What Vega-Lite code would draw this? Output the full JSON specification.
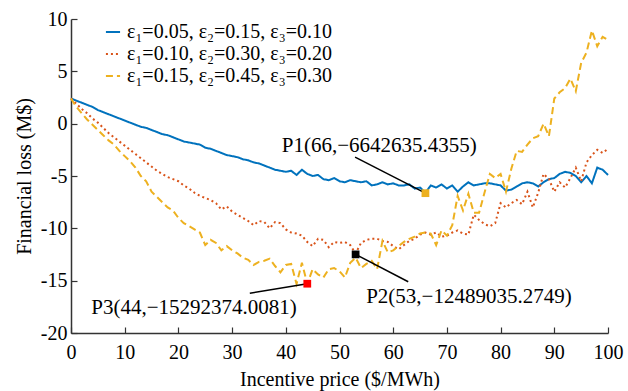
{
  "$schema": "https://vega.github.io/schema/vega-lite/v6.json",
  "width": 537,
  "height": 314,
  "autosize": {"type": "none"},
  "padding": {"left": 71, "top": 19, "right": 20, "bottom": 58},
  "background": "white",
  "config": {
    "view": {"stroke": null},
    "font": "Liberation Serif, Times New Roman, serif",
    "axis": {
      "labelFont": "Liberation Serif, Times New Roman, serif",
      "titleFont": "Liberation Serif, Times New Roman, serif",
      "labelFontSize": 20,
      "titleFontSize": 20,
      "titleFontWeight": "normal",
      "labelColor": "#000",
      "titleColor": "#000",
      "domainColor": "#333",
      "domainWidth": 1.5,
      "tickColor": "#333",
      "tickWidth": 1.2,
      "grid": false
    }
  },
  "datasets": {
    "curves": [
      {"x":0,"y":2.4,"s":"A"},{"x":1,"y":2.2,"s":"A"},{"x":2,"y":2.0,"s":"A"},{"x":3,"y":1.8,"s":"A"},{"x":4,"y":1.6,"s":"A"},{"x":5,"y":1.3,"s":"A"},{"x":6,"y":1.1,"s":"A"},{"x":7,"y":0.9,"s":"A"},{"x":8,"y":0.7,"s":"A"},{"x":9,"y":0.5,"s":"A"},{"x":10,"y":0.3,"s":"A"},
      {"x":11,"y":0.1,"s":"A"},{"x":12,"y":-0.1,"s":"A"},{"x":13,"y":-0.3,"s":"A"},{"x":14,"y":-0.4,"s":"A"},{"x":15,"y":-0.6,"s":"A"},{"x":16,"y":-0.8,"s":"A"},{"x":17,"y":-1.0,"s":"A"},{"x":18,"y":-1.1,"s":"A"},{"x":19,"y":-1.3,"s":"A"},{"x":20,"y":-1.5,"s":"A"},
      {"x":21,"y":-1.7,"s":"A"},{"x":22,"y":-1.8,"s":"A"},{"x":23,"y":-1.9,"s":"A"},{"x":24,"y":-2.0,"s":"A"},{"x":25,"y":-2.3,"s":"A"},{"x":26,"y":-2.4,"s":"A"},{"x":27,"y":-2.6,"s":"A"},{"x":28,"y":-2.8,"s":"A"},{"x":29,"y":-3.0,"s":"A"},{"x":30,"y":-3.1,"s":"A"},
      {"x":31,"y":-3.2,"s":"A"},{"x":32,"y":-3.4,"s":"A"},{"x":33,"y":-3.5,"s":"A"},{"x":34,"y":-3.7,"s":"A"},{"x":35,"y":-3.8,"s":"A"},{"x":36,"y":-4.0,"s":"A"},{"x":37,"y":-4.2,"s":"A"},{"x":38,"y":-4.4,"s":"A"},{"x":39,"y":-4.5,"s":"A"},{"x":40,"y":-4.6,"s":"A"},
      {"x":41,"y":-4.5,"s":"A"},{"x":42,"y":-4.9,"s":"A"},{"x":43,"y":-4.4,"s":"A"},{"x":44,"y":-4.8,"s":"A"},{"x":45,"y":-5.0,"s":"A"},{"x":46,"y":-4.9,"s":"A"},{"x":47,"y":-5.3,"s":"A"},{"x":48,"y":-5.4,"s":"A"},{"x":49,"y":-5.2,"s":"A"},{"x":50,"y":-5.5,"s":"A"},
      {"x":51,"y":-5.6,"s":"A"},{"x":52,"y":-5.4,"s":"A"},{"x":53,"y":-5.5,"s":"A"},{"x":54,"y":-5.6,"s":"A"},{"x":55,"y":-5.5,"s":"A"},{"x":56,"y":-5.9,"s":"A"},{"x":57,"y":-5.8,"s":"A"},{"x":58,"y":-5.6,"s":"A"},{"x":59,"y":-5.8,"s":"A"},{"x":60,"y":-5.7,"s":"A"},
      {"x":61,"y":-5.9,"s":"A"},{"x":62,"y":-5.9,"s":"A"},{"x":63,"y":-5.8,"s":"A"},{"x":64,"y":-6.2,"s":"A"},{"x":65,"y":-6.1,"s":"A"},{"x":66,"y":-6.6,"s":"A"},{"x":67,"y":-5.9,"s":"A"},{"x":68,"y":-6.1,"s":"A"},{"x":69,"y":-5.8,"s":"A"},{"x":70,"y":-6.2,"s":"A"},
      {"x":71,"y":-5.9,"s":"A"},{"x":72,"y":-6.5,"s":"A"},{"x":73,"y":-6.0,"s":"A"},{"x":74,"y":-5.6,"s":"A"},{"x":75,"y":-5.9,"s":"A"},{"x":76,"y":-5.8,"s":"A"},{"x":77,"y":-5.7,"s":"A"},{"x":78,"y":-5.7,"s":"A"},{"x":79,"y":-5.8,"s":"A"},{"x":80,"y":-5.9,"s":"A"},
      {"x":81,"y":-6.4,"s":"A"},{"x":82,"y":-6.3,"s":"A"},{"x":83,"y":-6.0,"s":"A"},{"x":84,"y":-5.7,"s":"A"},{"x":85,"y":-5.6,"s":"A"},{"x":86,"y":-5.7,"s":"A"},{"x":87,"y":-6.0,"s":"A"},{"x":88,"y":-5.6,"s":"A"},{"x":89,"y":-5.3,"s":"A"},{"x":90,"y":-5.2,"s":"A"},
      {"x":91,"y":-4.8,"s":"A"},{"x":92,"y":-4.6,"s":"A"},{"x":93,"y":-4.7,"s":"A"},{"x":94,"y":-5.0,"s":"A"},{"x":95,"y":-5.6,"s":"A"},{"x":96,"y":-5.0,"s":"A"},{"x":97,"y":-5.7,"s":"A"},{"x":98,"y":-4.2,"s":"A"},{"x":99,"y":-4.4,"s":"A"},{"x":100,"y":-4.9,"s":"A"},

      {"x":0,"y":2.4,"s":"B"},{"x":1,"y":1.9,"s":"B"},{"x":2,"y":1.4,"s":"B"},{"x":3,"y":1.0,"s":"B"},{"x":4,"y":0.5,"s":"B"},{"x":5,"y":0.1,"s":"B"},{"x":6,"y":-0.4,"s":"B"},{"x":7,"y":-0.9,"s":"B"},{"x":8,"y":-1.3,"s":"B"},{"x":9,"y":-1.7,"s":"B"},{"x":10,"y":-2.1,"s":"B"},
      {"x":11,"y":-2.5,"s":"B"},{"x":12,"y":-2.9,"s":"B"},{"x":13,"y":-3.3,"s":"B"},{"x":14,"y":-3.7,"s":"B"},{"x":15,"y":-4.1,"s":"B"},{"x":16,"y":-4.5,"s":"B"},{"x":17,"y":-4.8,"s":"B"},{"x":18,"y":-5.1,"s":"B"},{"x":19,"y":-5.3,"s":"B"},{"x":20,"y":-5.5,"s":"B"},
      {"x":21,"y":-5.9,"s":"B"},{"x":22,"y":-6.2,"s":"B"},{"x":23,"y":-6.6,"s":"B"},{"x":24,"y":-6.9,"s":"B"},{"x":25,"y":-7.1,"s":"B"},{"x":26,"y":-7.3,"s":"B"},{"x":27,"y":-7.6,"s":"B"},{"x":28,"y":-8.2,"s":"B"},{"x":29,"y":-7.9,"s":"B"},{"x":30,"y":-8.4,"s":"B"},
      {"x":31,"y":-8.7,"s":"B"},{"x":32,"y":-9.0,"s":"B"},{"x":33,"y":-9.3,"s":"B"},{"x":34,"y":-9.7,"s":"B"},{"x":35,"y":-9.3,"s":"B"},{"x":36,"y":-9.4,"s":"B"},{"x":37,"y":-10.0,"s":"B"},{"x":38,"y":-9.4,"s":"B"},{"x":39,"y":-9.5,"s":"B"},{"x":40,"y":-10.1,"s":"B"},
      {"x":41,"y":-10.4,"s":"B"},{"x":42,"y":-10.5,"s":"B"},{"x":43,"y":-10.7,"s":"B"},{"x":44,"y":-11.3,"s":"B"},{"x":45,"y":-11.7,"s":"B"},{"x":46,"y":-11.0,"s":"B"},{"x":47,"y":-11.1,"s":"B"},{"x":48,"y":-11.8,"s":"B"},{"x":49,"y":-11.3,"s":"B"},{"x":50,"y":-11.4,"s":"B"},
      {"x":51,"y":-11.3,"s":"B"},{"x":52,"y":-11.6,"s":"B"},{"x":53,"y":-12.4,"s":"B"},{"x":54,"y":-11.4,"s":"B"},{"x":55,"y":-11.1,"s":"B"},{"x":56,"y":-11.0,"s":"B"},{"x":57,"y":-11.0,"s":"B"},{"x":58,"y":-11.2,"s":"B"},{"x":59,"y":-11.3,"s":"B"},{"x":60,"y":-11.7,"s":"B"},
      {"x":61,"y":-12.0,"s":"B"},{"x":62,"y":-11.6,"s":"B"},{"x":63,"y":-11.2,"s":"B"},{"x":64,"y":-11.0,"s":"B"},{"x":65,"y":-10.6,"s":"B"},{"x":66,"y":-10.4,"s":"B"},{"x":67,"y":-10.6,"s":"B"},{"x":68,"y":-10.4,"s":"B"},{"x":69,"y":-10.8,"s":"B"},{"x":70,"y":-10.7,"s":"B"},
      {"x":71,"y":-10.4,"s":"B"},{"x":72,"y":-10.2,"s":"B"},{"x":73,"y":-10.5,"s":"B"},{"x":74,"y":-10.6,"s":"B"},{"x":75,"y":-8.7,"s":"B"},{"x":76,"y":-9.2,"s":"B"},{"x":77,"y":-9.6,"s":"B"},{"x":78,"y":-9.8,"s":"B"},{"x":79,"y":-9.5,"s":"B"},{"x":80,"y":-7.6,"s":"B"},
      {"x":81,"y":-8.0,"s":"B"},{"x":82,"y":-7.6,"s":"B"},{"x":83,"y":-7.3,"s":"B"},{"x":84,"y":-7.7,"s":"B"},{"x":85,"y":-6.5,"s":"B"},{"x":86,"y":-8.0,"s":"B"},{"x":87,"y":-6.6,"s":"B"},{"x":88,"y":-4.8,"s":"B"},{"x":89,"y":-5.3,"s":"B"},{"x":90,"y":-6.5,"s":"B"},
      {"x":91,"y":-5.6,"s":"B"},{"x":92,"y":-6.1,"s":"B"},{"x":93,"y":-5.2,"s":"B"},{"x":94,"y":-4.2,"s":"B"},{"x":95,"y":-5.5,"s":"B"},{"x":96,"y":-3.7,"s":"B"},{"x":97,"y":-3.0,"s":"B"},{"x":98,"y":-2.5,"s":"B"},{"x":99,"y":-2.8,"s":"B"},{"x":100,"y":-2.4,"s":"B"},

      {"x":0,"y":2.4,"s":"C"},{"x":1,"y":1.6,"s":"C"},{"x":2,"y":1.0,"s":"C"},{"x":3,"y":0.4,"s":"C"},{"x":4,"y":-0.1,"s":"C"},{"x":5,"y":-0.6,"s":"C"},{"x":6,"y":-1.1,"s":"C"},{"x":7,"y":-1.6,"s":"C"},{"x":8,"y":-2.0,"s":"C"},{"x":9,"y":-2.6,"s":"C"},{"x":10,"y":-3.1,"s":"C"},
      {"x":11,"y":-3.6,"s":"C"},{"x":12,"y":-4.2,"s":"C"},{"x":13,"y":-5.0,"s":"C"},{"x":14,"y":-5.5,"s":"C"},{"x":15,"y":-6.5,"s":"C"},{"x":16,"y":-7.0,"s":"C"},{"x":17,"y":-7.5,"s":"C"},{"x":18,"y":-8.0,"s":"C"},{"x":19,"y":-8.3,"s":"C"},{"x":20,"y":-9.0,"s":"C"},
      {"x":21,"y":-9.5,"s":"C"},{"x":22,"y":-9.8,"s":"C"},{"x":23,"y":-10.1,"s":"C"},{"x":24,"y":-10.4,"s":"C"},{"x":25,"y":-11.6,"s":"C"},{"x":26,"y":-11.1,"s":"C"},{"x":27,"y":-11.4,"s":"C"},{"x":28,"y":-12.1,"s":"C"},{"x":29,"y":-11.7,"s":"C"},{"x":30,"y":-12.1,"s":"C"},
      {"x":31,"y":-12.4,"s":"C"},{"x":32,"y":-12.8,"s":"C"},{"x":33,"y":-13.0,"s":"C"},{"x":34,"y":-13.5,"s":"C"},{"x":35,"y":-13.2,"s":"C"},{"x":36,"y":-13.1,"s":"C"},{"x":37,"y":-12.9,"s":"C"},{"x":38,"y":-13.6,"s":"C"},{"x":39,"y":-14.2,"s":"C"},{"x":40,"y":-13.5,"s":"C"},
      {"x":41,"y":-13.4,"s":"C"},{"x":42,"y":-15.3,"s":"C"},{"x":43,"y":-13.3,"s":"C"},{"x":44,"y":-15.3,"s":"C"},{"x":45,"y":-13.9,"s":"C"},{"x":46,"y":-14.4,"s":"C"},{"x":47,"y":-14.7,"s":"C"},{"x":48,"y":-13.9,"s":"C"},{"x":49,"y":-13.8,"s":"C"},{"x":50,"y":-14.1,"s":"C"},
      {"x":51,"y":-14.7,"s":"C"},{"x":52,"y":-13.3,"s":"C"},{"x":53,"y":-12.8,"s":"C"},{"x":54,"y":-13.8,"s":"C"},{"x":55,"y":-13.4,"s":"C"},{"x":56,"y":-13.1,"s":"C"},{"x":57,"y":-13.9,"s":"C"},{"x":58,"y":-11.2,"s":"C"},{"x":59,"y":-12.3,"s":"C"},{"x":60,"y":-12.1,"s":"C"},
      {"x":61,"y":-11.7,"s":"C"},{"x":62,"y":-11.3,"s":"C"},{"x":63,"y":-11.0,"s":"C"},{"x":64,"y":-10.8,"s":"C"},{"x":65,"y":-10.5,"s":"C"},{"x":66,"y":-10.4,"s":"C"},{"x":67,"y":-10.5,"s":"C"},{"x":68,"y":-11.6,"s":"C"},{"x":69,"y":-10.2,"s":"C"},{"x":70,"y":-10.7,"s":"C"},
      {"x":71,"y":-9.7,"s":"C"},{"x":72,"y":-6.9,"s":"C"},{"x":73,"y":-8.3,"s":"C"},{"x":74,"y":-6.7,"s":"C"},{"x":75,"y":-8.5,"s":"C"},{"x":76,"y":-8.5,"s":"C"},{"x":77,"y":-6.6,"s":"C"},{"x":78,"y":-4.8,"s":"C"},{"x":79,"y":-5.2,"s":"C"},{"x":80,"y":-4.8,"s":"C"},
      {"x":81,"y":-6.5,"s":"C"},{"x":82,"y":-4.3,"s":"C"},{"x":83,"y":-2.6,"s":"C"},{"x":84,"y":-2.7,"s":"C"},{"x":85,"y":-2.0,"s":"C"},{"x":86,"y":-1.4,"s":"C"},{"x":87,"y":-1.2,"s":"C"},{"x":88,"y":0.0,"s":"C"},{"x":89,"y":-1.2,"s":"C"},{"x":90,"y":2.4,"s":"C"},
      {"x":91,"y":3.0,"s":"C"},{"x":92,"y":3.4,"s":"C"},{"x":93,"y":4.3,"s":"C"},{"x":94,"y":3.1,"s":"C"},{"x":95,"y":5.8,"s":"C"},{"x":96,"y":6.8,"s":"C"},{"x":97,"y":8.9,"s":"C"},{"x":98,"y":7.4,"s":"C"},{"x":99,"y":8.3,"s":"C"},{"x":100,"y":8.0,"s":"C"}
    ],
    "notes": [
      {"name":"P1","px":66,"py":-6.64,"lx":52.9,"ly":-3.2,"tx":57.4,"ty":-2.1,"label":"P1(66,−6642635.4355)"},
      {"name":"P2","px":53,"py":-12.49,"lx":62.8,"ly":-15.1,"tx":74.1,"ty":-16.6,"label":"P2(53,−12489035.2749)"},
      {"name":"P3","px":44,"py":-15.29,"lx":33.3,"ly":-16.2,"tx":22.9,"ty":-17.6,"label":"P3(44,−15292374.0081)"}
    ]
  },
  "layer": [
    {
      "data": {"name": "curves"},
      "mark": {"type": "line", "strokeWidth": 2},
      "encoding": {
        "x": {"field": "x", "type": "quantitative", "scale": {"domain": [0, 100], "nice": false},
          "axis": {"title": "Incentive price ($/MWh)", "values": [0,10,20,30,40,50,60,70,80,90,100], "tickSize": -6, "labelPadding": 15, "titlePadding": 7, "labelFlush": false}},
        "y": {"field": "y", "type": "quantitative", "scale": {"domain": [-20, 10], "nice": false},
          "axis": {"title": "Financial loss (M$)", "values": [-20,-15,-10,-5,0,5,10], "tickSize": -6, "labelPadding": 10, "titlePadding": 6,
            "labelExpr": "datum.value < 0 ? '-' + abs(datum.value) : '' + datum.value"}},
        "color": {"field": "s", "type": "nominal",
          "scale": {"domain": ["A","B","C"], "range": ["#0072BD","#D95319","#EDB120"]},
          "legend": {"title": null, "orient": "none", "legendX": 32, "legendY": 3,
            "labelExpr": "datum.value == 'A' ? 'ε₁=0.05, ε₂=0.15, ε₃=0.10' : datum.value == 'B' ? 'ε₁=0.10, ε₂=0.30, ε₃=0.20' : 'ε₁=0.15, ε₂=0.45, ε₃=0.30'",
            "labelFont": "Liberation Serif, Times New Roman, serif", "labelFontSize": 20, "labelColor": "#000", "labelLimit": 0,
            "symbolType": "stroke", "symbolSize": 200, "symbolStrokeWidth": 2, "rowPadding": 2, "labelOffset": 4}},
        "strokeDash": {"field": "s", "type": "nominal",
          "scale": {"domain": ["A","B","C"], "range": [[1,0],[2,3],[7,4]]},
          "legend": {"title": null, "orient": "none", "legendX": 32, "legendY": 3,
            "labelExpr": "datum.value == 'A' ? 'ε₁=0.05, ε₂=0.15, ε₃=0.10' : datum.value == 'B' ? 'ε₁=0.10, ε₂=0.30, ε₃=0.20' : 'ε₁=0.15, ε₂=0.45, ε₃=0.30'",
            "labelFont": "Liberation Serif, Times New Roman, serif", "labelFontSize": 20, "labelColor": "#000", "labelLimit": 0,
            "symbolType": "stroke", "symbolSize": 200, "symbolStrokeWidth": 2, "rowPadding": 2, "labelOffset": 4}}
      }
    },
    {
      "data": {"name": "notes"},
      "mark": {"type": "rule", "color": "black", "strokeWidth": 1.5},
      "encoding": {
        "x": {"field": "px", "type": "quantitative"},
        "y": {"field": "py", "type": "quantitative"},
        "x2": {"field": "lx"},
        "y2": {"field": "ly"}
      }
    },
    {
      "data": {"name": "notes"},
      "mark": {"type": "point", "shape": "square", "filled": true, "size": 60, "opacity": 1},
      "encoding": {
        "x": {"field": "px", "type": "quantitative"},
        "y": {"field": "py", "type": "quantitative"},
        "fill": {"field": "name", "type": "nominal", "scale": {"domain": ["P1","P2","P3"], "range": ["#EDB120","#000000","#FF0000"]}, "legend": null}
      }
    },
    {
      "data": {"name": "notes"},
      "mark": {"type": "text", "font": "Liberation Serif, Times New Roman, serif", "fontSize": 21, "color": "black", "align": "center", "baseline": "middle"},
      "encoding": {
        "x": {"field": "tx", "type": "quantitative"},
        "y": {"field": "ty", "type": "quantitative"},
        "text": {"field": "label"}
      }
    }
  ]
}
